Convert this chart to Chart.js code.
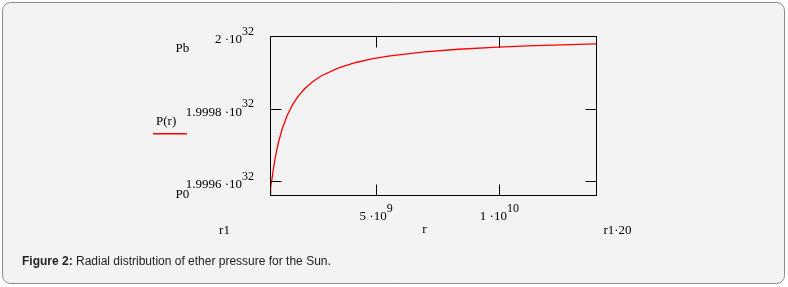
<!DOCTYPE html>
<html><head><meta charset="utf-8">
<script src="https://cdn.jsdelivr.net/npm/chart.js@4"></script>
<style>html,body{margin:0;padding:0;background:#fff;} canvas{display:block;}</style>
</head><body><canvas id="c" width="788" height="287"></canvas>
<script>
// Data
const rValues = [6.96e8, 7.10e8, 7.31e8, 7.66e8, 8.35e8, 9.05e8, 9.74e8, 1.044e9, 1.183e9, 1.392e9,
  1.601e9, 1.81e9, 2.088e9, 2.436e9, 2.784e9, 3.48e9, 4.176e9, 4.872e9, 5.568e9, 6.96e9,
  8.352e9, 9.744e9, 1.1136e10, 1.2528e10, 1.392e10];
const pValues = [1.999562e32, 1.9995706e32, 1.9995829e32, 1.9996018e32, 1.999635e32, 1.9996631e32,
  1.9996871e32, 1.999708e32, 1.9997424e32, 1.999781e32, 1.9998096e32, 1.9998315e32, 1.999854e32,
  1.9998749e32, 1.9998905e32, 1.9999124e32, 1.999927e32, 1.9999374e32, 1.9999453e32, 1.9999562e32,
  1.9999635e32, 1.9999687e32, 1.9999726e32, 1.9999757e32, 1.9999781e32];
const xRange = [6.96e8, 1.392e10];           // r1 .. r1·20
const yRange = [1.999562e32, 2e32];          // P0 .. Pb
const xTicks = [5e9, 1e10];
const xTickMain = ["5 ·10", "1 ·10"];
const xTickExp = ["9", "10"];
const yTicks = [2e32, 1.9998e32, 1.9996e32];
const yTickMain = ["2 ·10", "1.9998 ·10", "1.9996 ·10"];
const yTickExp = ["32", "32", "32"];
const seriesLabel = "P(r)";
const caption = ["Figure 2:", " Radial distribution of ether pressure for the Sun."];

const SERIF = '"Liberation Serif", "Times New Roman", serif';
const SANS = '"Liberation Sans", Arial, sans-serif';

const decor = {
  id: 'decor',
  beforeDraw(chart) {
    const ctx = chart.ctx;
    ctx.save();
    const x0 = 2.5, y0 = 2.5, x1 = 784.5, y1 = 283.5, r = 8;
    ctx.beginPath();
    ctx.moveTo(x0 + r, y0);
    ctx.lineTo(x1 - r, y0); ctx.arcTo(x1, y0, x1, y0 + r, r);
    ctx.lineTo(x1, y1 - r); ctx.arcTo(x1, y1, x1 - r, y1, r);
    ctx.lineTo(x0 + r, y1); ctx.arcTo(x0, y1, x0, y1 - r, r);
    ctx.lineTo(x0, y0 + r); ctx.arcTo(x0, y0, x0 + r, y0, r);
    ctx.closePath();
    ctx.fillStyle = '#f3f3f3';
    ctx.fill();
    ctx.strokeStyle = '#8a8a8a';
    ctx.lineWidth = 1;
    ctx.stroke();
    ctx.restore();
  },
  afterDraw(chart) {
    const ctx = chart.ctx;
    const a = chart.chartArea;
    const xs = chart.scales.x, ys = chart.scales.y;
    const L = Math.round(a.left) + 0.5, R = Math.round(a.right) + 0.5;
    const T = Math.round(a.top) + 0.5, B = Math.round(a.bottom) + 0.5;
    ctx.save();
    ctx.strokeStyle = '#000';
    ctx.lineWidth = 1;
    ctx.strokeRect(L, T, R - L, B - T);
    const tl = 11;
    ctx.beginPath();
    xTicks.forEach(v => {
      const px = Math.round(xs.getPixelForValue(v)) + 0.5;
      ctx.moveTo(px, B); ctx.lineTo(px, B - tl);
      ctx.moveTo(px, T); ctx.lineTo(px, T + tl);
    });
    yTicks.forEach(v => {
      const py = Math.round(ys.getPixelForValue(v)) + 0.5;
      ctx.moveTo(L, py); ctx.lineTo(L + tl, py);
      ctx.moveTo(R, py); ctx.lineTo(R - tl, py);
    });
    ctx.stroke();

    const mainFont = '13px ' + SERIF, supFont = '12px ' + SERIF;
    ctx.fillStyle = '#000';
    ctx.textBaseline = 'alphabetic';
    // y tick labels
    yTicks.forEach((v, i) => {
      const py = ys.getPixelForValue(v);
      const right = a.left - 16;
      ctx.font = supFont;
      const sw = ctx.measureText(yTickExp[i]).width;
      ctx.textAlign = 'left';
      ctx.fillText(yTickExp[i], right - sw, py - 1.5);
      ctx.font = mainFont;
      ctx.textAlign = 'right';
      ctx.fillText(yTickMain[i], right - sw, py + 7);
    });
    // x tick labels
    xTicks.forEach((v, i) => {
      const px = xs.getPixelForValue(v);
      ctx.font = mainFont;
      const mw = ctx.measureText(xTickMain[i]).width;
      ctx.font = supFont;
      const sw = ctx.measureText(xTickExp[i]).width;
      const start = px - (mw + sw) / 2;
      ctx.textAlign = 'left';
      ctx.font = mainFont;
      ctx.fillText(xTickMain[i], start, a.bottom + 25);
      ctx.font = supFont;
      ctx.fillText(xTickExp[i], start + mw, a.bottom + 16.5);
    });
    // axis annotations
    ctx.font = mainFont;
    ctx.textAlign = 'left';
    ctx.fillText('Pb', 175.5, ys.getPixelForValue(yRange[1]) + 16);
    ctx.fillText('P0', 175.5, ys.getPixelForValue(yRange[0]) + 3);
    ctx.fillText(seriesLabel, 156, 124.5);
    ctx.textAlign = 'center';
    ctx.fillText('r1', 224.5, a.bottom + 39);
    ctx.fillText('r', 424.5, a.bottom + 38);
    ctx.fillText('r1·20', 617.5, a.bottom + 39);
    // legend line (series colour)
    ctx.fillStyle = chart.data.datasets[0].borderColor;
    ctx.fillRect(153, 133, 34, 1.5);
    // caption
    ctx.textAlign = 'left';
    ctx.font = 'bold 12px ' + SANS;
    ctx.fillStyle = '#222';
    ctx.fillText(caption[0], 22, 265);
    const cw = ctx.measureText(caption[0]).width;
    ctx.font = '12px ' + SANS;
    ctx.fillText(caption[1], 22 + cw, 265);
    ctx.restore();
  }
};

new Chart(document.getElementById('c'), {
  type: 'line',
  data: {
    datasets: [{
      label: seriesLabel,
      data: rValues.map((r, i) => ({ x: r, y: pValues[i] })),
      borderColor: '#ff0000',
      borderWidth: 1.3,
      pointRadius: 0,
      tension: 0,
      fill: false
    }]
  },
  options: {
    responsive: false,
    animation: false,
    devicePixelRatio: 1,
    layout: { padding: { left: 270, top: 36, right: 192, bottom: 92 } },
    scales: {
      x: { type: 'linear', min: xRange[0], max: xRange[1], display: false },
      y: { type: 'linear', min: yRange[0], max: yRange[1], display: false }
    },
    plugins: { legend: { display: false }, tooltip: { enabled: false } }
  },
  plugins: [decor]
});
</script>
</body></html>
